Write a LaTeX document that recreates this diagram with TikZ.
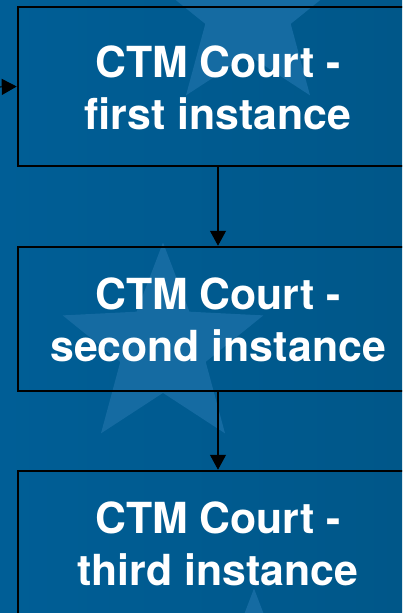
\documentclass[tikz,border=0pt]{standalone}
\usepackage{fontspec}
\setmainfont{TeX Gyre Heros}
\usetikzlibrary{shapes.geometric,arrows.meta}
\definecolor{bgleft}{HTML}{005E96}
\definecolor{bgright}{HTML}{005789}
\definecolor{starblue}{HTML}{156BA2}
\newcommand{\lowertext}{\rule{0pt}{34pt}}
\tikzset{
  courtbox/.style={draw=black,line width=1.5pt,minimum width=400pt,inner sep=0pt,align=center,text=white,font=\fontsize{42.8}{52}\selectfont\bfseries},
  bgstar/.style={star,star points=5,star point ratio=2.35,minimum size=211pt,inner sep=0pt,fill=starblue},
  link/.style={draw=black,line width=1.2pt,-{Triangle[length=15pt,width=16pt]},shorten >=0.5pt}
}
\begin{document}
\begin{tikzpicture}[x=1pt,y=-1pt]
\useasboundingbox (0,0) rectangle (402,613);
\clip (0,0) rectangle (402,613);
\shade[left color=bgleft,right color=bgright] (0,0) rectangle (402,613);
\node[bgstar] (star1) at (248,10) {};
\node[bgstar] (star2) at (163,348) {};
\node[bgstar] (star3) at (254,694) {};
\node[courtbox,minimum height=159pt] (first) at (218,86.5) {\lowertext CTM Court -\\first instance};
\node[courtbox,minimum height=144pt] (second) at (218,319) {\lowertext CTM Court -\\second instance};
\node[courtbox,minimum height=144pt] (third) at (218,543) {\lowertext CTM Court -\\third instance};
\coordinate (entry) at (-4,87);
\draw[link] (entry) -- (first.west);
\draw[link] (first) -- (second);
\draw[link] (second) -- (third);
\end{tikzpicture}
\end{document}
